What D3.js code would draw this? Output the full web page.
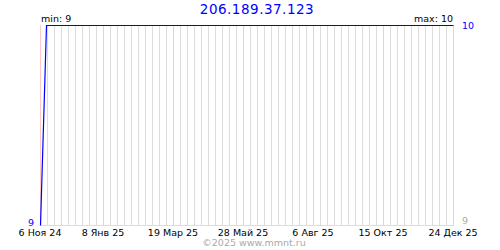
<!DOCTYPE html>
<html><head><meta charset="utf-8">
<script src="https://cdn.jsdelivr.net/npm/d3@7"></script>
<style>body{margin:0;background:#fff}svg{display:block}text{font-family:"DejaVu Sans",sans-serif}</style>
</head><body>
<script>
const title = "206.189.37.123";
const pointDates = ["2024-11-06", "2024-11-12", "2025-12-24"];
const pointValues = [9, 10, 10];
const tickDates = ["2024-11-06","2025-01-08","2025-03-19","2025-05-28","2025-08-06","2025-10-15","2025-12-24"];
const tickLabels = ["6 Ноя 24","8 Янв 25","19 Мар 25","28 Май 25","6 Авг 25","15 Окт 25","24 Дек 25"];
const minLabel = "min: 9", maxLabel = "max: 10";
const yMin = 9, yMax = 10;
const credit = "©2025 www.mmnt.ru";

const parse = d3.utcParse("%Y-%m-%d");
const W = 500, H = 250;
const svg = d3.select("body").append("svg").attr("width", W).attr("height", H);
const x = d3.scaleUtc().domain([parse(tickDates[0]), parse(tickDates[tickDates.length-1])]).range([40, 453]);
const y = d3.scaleLinear().domain([yMin, yMax]).range([225, 25]);

// weekly grid
const weeks = d3.utcDay.every(7).range ? null : null;
const start = parse(tickDates[0]), end = parse(tickDates[tickDates.length-1]);
const weekDates = d3.utcWednesday.range(start, d3.utcDay.offset(end, 1));
svg.append("g").selectAll("line").data(weekDates).join("line")
  .attr("x1", d => Math.round(x(d)) + 0.5).attr("x2", d => Math.round(x(d)) + 0.5)
  .attr("y1", y(yMax)).attr("y2", y(yMin))
  .attr("stroke", "#dddddd").attr("shape-rendering", "crispEdges");
svg.append("g").selectAll("line").data(tickDates.map(parse)).join("line")
  .attr("x1", d => Math.round(x(d)) + 0.5).attr("x2", d => Math.round(x(d)) + 0.5)
  .attr("y1", y(yMax)).attr("y2", y(yMin))
  .attr("stroke", "#ffc8c8").attr("shape-rendering", "crispEdges");
// bottom axis line
svg.append("line").attr("x1", x.range()[0]).attr("x2", x.range()[1] + 1)
  .attr("y1", y(yMin) + 0.5).attr("y2", y(yMin) + 0.5).attr("stroke", "#dddddd");

// data line
const pts = pointDates.map((d, i) => [parse(d), pointValues[i]]);
svg.append("path").datum(pts)
  .attr("d", d3.line().x(d => x(d[0]) + 0.5).y(d => y(d[1]) + 0.5))
  .attr("fill", "none").attr("stroke", "#0000ff").attr("stroke-width", 1.2);

// texts
svg.append("text").attr("x", 257).attr("y", 14).attr("text-anchor", "middle")
  .attr("fill", "#0000ff").attr("font-size", 13.5).attr("letter-spacing", 0.5).text(title);
svg.append("text").attr("x", 41).attr("y", 22).attr("font-size", 9.5).attr("fill", "#000").text(minLabel);
svg.append("text").attr("x", 453).attr("y", 22).attr("text-anchor", "end").attr("font-size", 9.5).attr("fill", "#000").text(maxLabel);
svg.append("text").attr("x", 462).attr("y", y(yMax) + 4).attr("font-size", 9.5).attr("fill", "#0000ff").text(String(yMax));
svg.append("text").attr("x", 34).attr("y", y(yMin) + 1).attr("text-anchor", "end").attr("font-size", 9.5).attr("fill", "#0000ff").text(String(yMin));
svg.append("text").attr("x", 462).attr("y", y(yMin) - 1).attr("font-size", 9.5).attr("fill", "#aaaaaa").text(String(yMin));

svg.append("g").selectAll("text").data(tickDates).join("text")
  .attr("x", d => x(parse(d))).attr("y", 236).attr("text-anchor", "middle")
  .attr("font-size", 9.5).attr("fill", "#000").text((d, i) => tickLabels[i]);

svg.append("text").attr("x", 254).attr("y", 246).attr("text-anchor", "middle")
  .attr("font-size", 9.5).attr("fill", "#aaaaaa").text(credit);
</script>
</body></html>
